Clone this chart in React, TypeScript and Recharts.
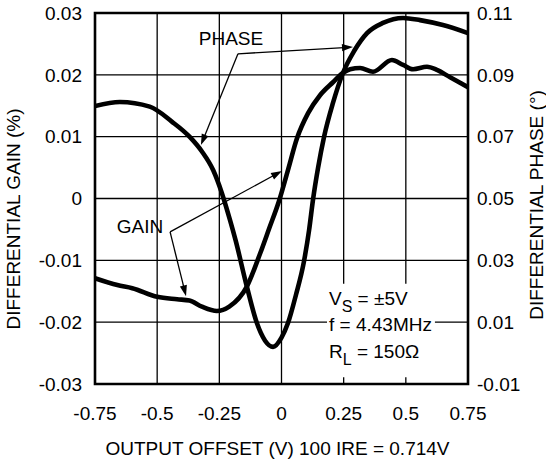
import React from 'react';
import {
  LineChart,
  Line,
  XAxis,
  YAxis,
  CartesianGrid,
  ReferenceArea,
  ReferenceLine,
  ReferenceDot,
} from 'recharts';

// ---- axis ticks ----
const xTicks = [-0.75, -0.5, -0.25, 0, 0.25, 0.5, 0.75];
const gainTicks = [-0.03, -0.02, -0.01, 0, 0.01, 0.02, 0.03];
const phaseTicks = [-0.01, 0.01, 0.03, 0.05, 0.07, 0.09, 0.11];

// ---- differential gain (%) vs output offset (V) ----
const gainX = [
  -0.75, -0.66, -0.6, -0.5, -0.42, -0.37, -0.32, -0.26, -0.21, -0.14, -0.086, -0.05, -0.01,
  0.026, 0.062, 0.107, 0.155, 0.207, 0.247, 0.276, 0.316, 0.368, 0.444, 0.489, 0.529, 0.585,
  0.625, 0.678, 0.75,
];
const gainY = [
  -0.0129, -0.014, -0.0145, -0.0159, -0.0163, -0.0165, -0.0175, -0.0182, -0.0175, -0.0143,
  -0.0089, -0.0049, -0.0004, 0.0046, 0.0097, 0.0138, 0.0167, 0.0188, 0.0203, 0.0209, 0.0211,
  0.0205, 0.0224, 0.0216, 0.0209, 0.0213, 0.0208, 0.0196, 0.018,
];

// ---- differential phase (deg) vs output offset (V) ----
const phaseX = [
  -0.75, -0.65, -0.53, -0.44, -0.37, -0.32, -0.275, -0.24, -0.207, -0.185, -0.139, -0.099,
  -0.066, -0.034, 0.0, 0.026, 0.058, 0.09, 0.111, 0.127, 0.147, 0.171, 0.207, 0.247, 0.292,
  0.344, 0.408, 0.489, 0.557, 0.649, 0.75,
];
const phaseY = [
  0.0799, 0.0812, 0.0797, 0.0748, 0.07, 0.0652, 0.0592, 0.0518, 0.043, 0.0366, 0.0214,
  0.0097, 0.004, 0.002, 0.005, 0.0097, 0.0188, 0.0295, 0.0398, 0.0498, 0.0599, 0.0699, 0.0809,
  0.0906, 0.0977, 0.1035, 0.1068, 0.1084, 0.1077, 0.1061, 0.1035,
];

const gainData = gainX.map((x, i) => ({ x, gain: gainY[i] }));
const phaseData = phaseX.map((x, i) => ({ x, phase: phaseY[i] }));

const FONT = '"Liberation Sans", Arial, Helvetica, sans-serif';
const FS = 19;

const fmt = (v: number) => String(v);

const Arrow = (props: any) => {
  const { x1, y1, x2, y2 } = props;
  const dx = x2 - x1;
  const dy = y2 - y1;
  const len = Math.hypot(dx, dy) || 1;
  const ux = dx / len;
  const uy = dy / len;
  const L = 11;
  const W = 3.6;
  const bx = x2 - ux * L;
  const by = y2 - uy * L;
  const pts = `${x2},${y2} ${bx - uy * W},${by + ux * W} ${bx + uy * W},${by - ux * W}`;
  return (
    <g>
      <line x1={x1} y1={y1} x2={bx + ux * 2} y2={by + uy * 2} stroke="#000" strokeWidth={1.3} />
      <polygon points={pts} fill="#000" />
    </g>
  );
};

const centerText = (label: string) => (p: any) => (
  <text
    x={p.cx}
    y={p.cy}
    dy="0.36em"
    textAnchor="middle"
    fontFamily={FONT}
    fontSize={FS}
    fill="#000"
  >
    {label}
  </text>
);

const subText = (main: string, sub: string, rest: string) => (p: any) => (
  <text x={p.cx} y={p.cy} fontFamily={FONT} fontSize={FS} fill="#000" style={{ whiteSpace: 'pre' }}>
    <tspan>{main}</tspan>
    <tspan dy={7} fontSize={16}>
      {sub}
    </tspan>
    <tspan dy={-7}>{rest}</tspan>
  </text>
);

const plainText = (label: string) => (p: any) => (
  <text x={p.cx} y={p.cy} fontFamily={FONT} fontSize={FS} fill="#000" style={{ whiteSpace: 'pre' }}>
    {label}
  </text>
);

const leftTitle = (props: any) => {
  const vb = props.viewBox || { x: 0, y: 13, width: 95, height: 371 };
  const cx = vb.x + 13;
  const cy = vb.y + 206;
  return (
    <text
      transform={`translate(${cx},${cy}) rotate(-90)`}
      textAnchor="middle"
      dy="0.36em"
      fontFamily={FONT}
      fontSize={FS}
      fill="#000"
    >
      DIFFERENTIAL GAIN (%)
    </text>
  );
};

const rightTitle = (props: any) => {
  const vb = props.viewBox || { x: 468, y: 13, width: 78, height: 371 };
  const cx = vb.x + 68;
  const cy = vb.y + 192;
  return (
    <text
      transform={`translate(${cx},${cy}) rotate(-90)`}
      textAnchor="middle"
      dy="0.36em"
      fontFamily={FONT}
      fontSize={FS}
      fill="#000"
    >
      DIFFERENTIAL PHASE (°)
    </text>
  );
};

const bottomTitle = (props: any) => {
  const vb = props.viewBox || { x: 95, y: 384, width: 373, height: 80 };
  return (
    <text
      x={vb.x + vb.width / 2 - 4}
      y={vb.y + 71}
      textAnchor="middle"
      fontFamily={FONT}
      fontSize={FS}
      fill="#000"
    >
      OUTPUT OFFSET (V) 100 IRE = 0.714V
    </text>
  );
};

export default function App() {
  return (
    <div style={{ position: 'absolute', left: 0, top: 0, width: 546, height: 464, background: '#fff' }}>
      <LineChart
        width={546}
        height={464}
        margin={{ top: 13, right: 0, bottom: 0, left: 0 }}
        style={{ fontFamily: FONT }}
      >
        <CartesianGrid yAxisId="gain" stroke="#000" strokeWidth={1.3} />
        <XAxis
          type="number"
          dataKey="x"
          domain={[-0.75, 0.75]}
          ticks={xTicks}
          tickFormatter={fmt}
          allowDataOverflow
          height={80}
          axisLine={false}
          tickLine={false}
          tickSize={0}
          tickMargin={23}
          tick={{ fill: '#000', fontSize: FS, fontFamily: FONT }}
          interval={0}
          label={bottomTitle}
        />
        <YAxis
          yAxisId="gain"
          orientation="left"
          type="number"
          domain={[-0.03, 0.03]}
          ticks={gainTicks}
          tickFormatter={fmt}
          allowDataOverflow
          width={95}
          axisLine={false}
          tickLine={false}
          tickSize={0}
          tickMargin={13}
          tick={{ fill: '#000', fontSize: FS, fontFamily: FONT }}
          interval={0}
          label={leftTitle}
        />
        <YAxis
          yAxisId="phase"
          orientation="right"
          type="number"
          domain={[-0.01, 0.11]}
          ticks={phaseTicks}
          tickFormatter={fmt}
          allowDataOverflow
          width={78}
          axisLine={false}
          tickLine={false}
          tickSize={0}
          tickMargin={9}
          tick={{ fill: '#000', fontSize: FS, fontFamily: FONT }}
          interval={0}
          label={rightTitle}
        />

        {/* blank background behind the conditions text */}
        <ReferenceArea
          yAxisId="gain"
          x1={0.183}
          x2={0.617}
          y1={-0.0289}
          y2={-0.0138}
          fill="#fff"
          fillOpacity={1}
          stroke="none"
          ifOverflow="visible"
        />

        <Line
          data={gainData}
          yAxisId="gain"
          dataKey="gain"
          type="monotone"
          stroke="#000"
          strokeWidth={4.6}
          dot={false}
          activeDot={false}
          isAnimationActive={false}
        />
        <Line
          data={phaseData}
          yAxisId="phase"
          dataKey="phase"
          type="monotone"
          stroke="#000"
          strokeWidth={4.6}
          dot={false}
          activeDot={false}
          isAnimationActive={false}
        />

        {/* frame */}
        <ReferenceArea
          yAxisId="gain"
          x1={-0.75}
          x2={0.75}
          y1={-0.03}
          y2={0.03}
          fill="none"
          fillOpacity={0}
          stroke="#000"
          strokeWidth={2.6}
          ifOverflow="visible"
        />

        {/* PHASE callout */}
        <ReferenceLine
          yAxisId="gain"
          segment={[{ x: -0.175, y: 0.0234 }, { x: -0.324, y: 0.00865 }]}
          shape={Arrow}
          ifOverflow="visible"
        />
        <ReferenceLine
          yAxisId="gain"
          segment={[{ x: -0.175, y: 0.0234 }, { x: 0.2875, y: 0.0245 }]}
          shape={Arrow}
          ifOverflow="visible"
        />
        <ReferenceDot yAxisId="gain" x={-0.203} y={0.026} r={0} shape={centerText('PHASE')} ifOverflow="visible" />

        {/* GAIN callout */}
        <ReferenceLine
          yAxisId="gain"
          segment={[{ x: -0.448, y: -0.0054 }, { x: 0.002, y: 0.00445 }]}
          shape={Arrow}
          ifOverflow="visible"
        />
        <ReferenceLine
          yAxisId="gain"
          segment={[{ x: -0.448, y: -0.0054 }, { x: -0.384, y: -0.0158 }]}
          shape={Arrow}
          ifOverflow="visible"
        />
        <ReferenceDot yAxisId="gain" x={-0.569} y={-0.0045} r={0} shape={centerText('GAIN')} ifOverflow="visible" />

        {/* test conditions */}
        <ReferenceDot yAxisId="gain" x={0.191} y={-0.0172} r={0} shape={subText('V', 'S', ' = ±5V')} ifOverflow="visible" />
        <ReferenceDot yAxisId="gain" x={0.191} y={-0.0214} r={0} shape={plainText('f = 4.43MHz')} ifOverflow="visible" />
        <ReferenceDot yAxisId="gain" x={0.191} y={-0.0258} r={0} shape={subText('R', 'L', ' = 150Ω')} ifOverflow="visible" />
      </LineChart>
    </div>
  );
}
